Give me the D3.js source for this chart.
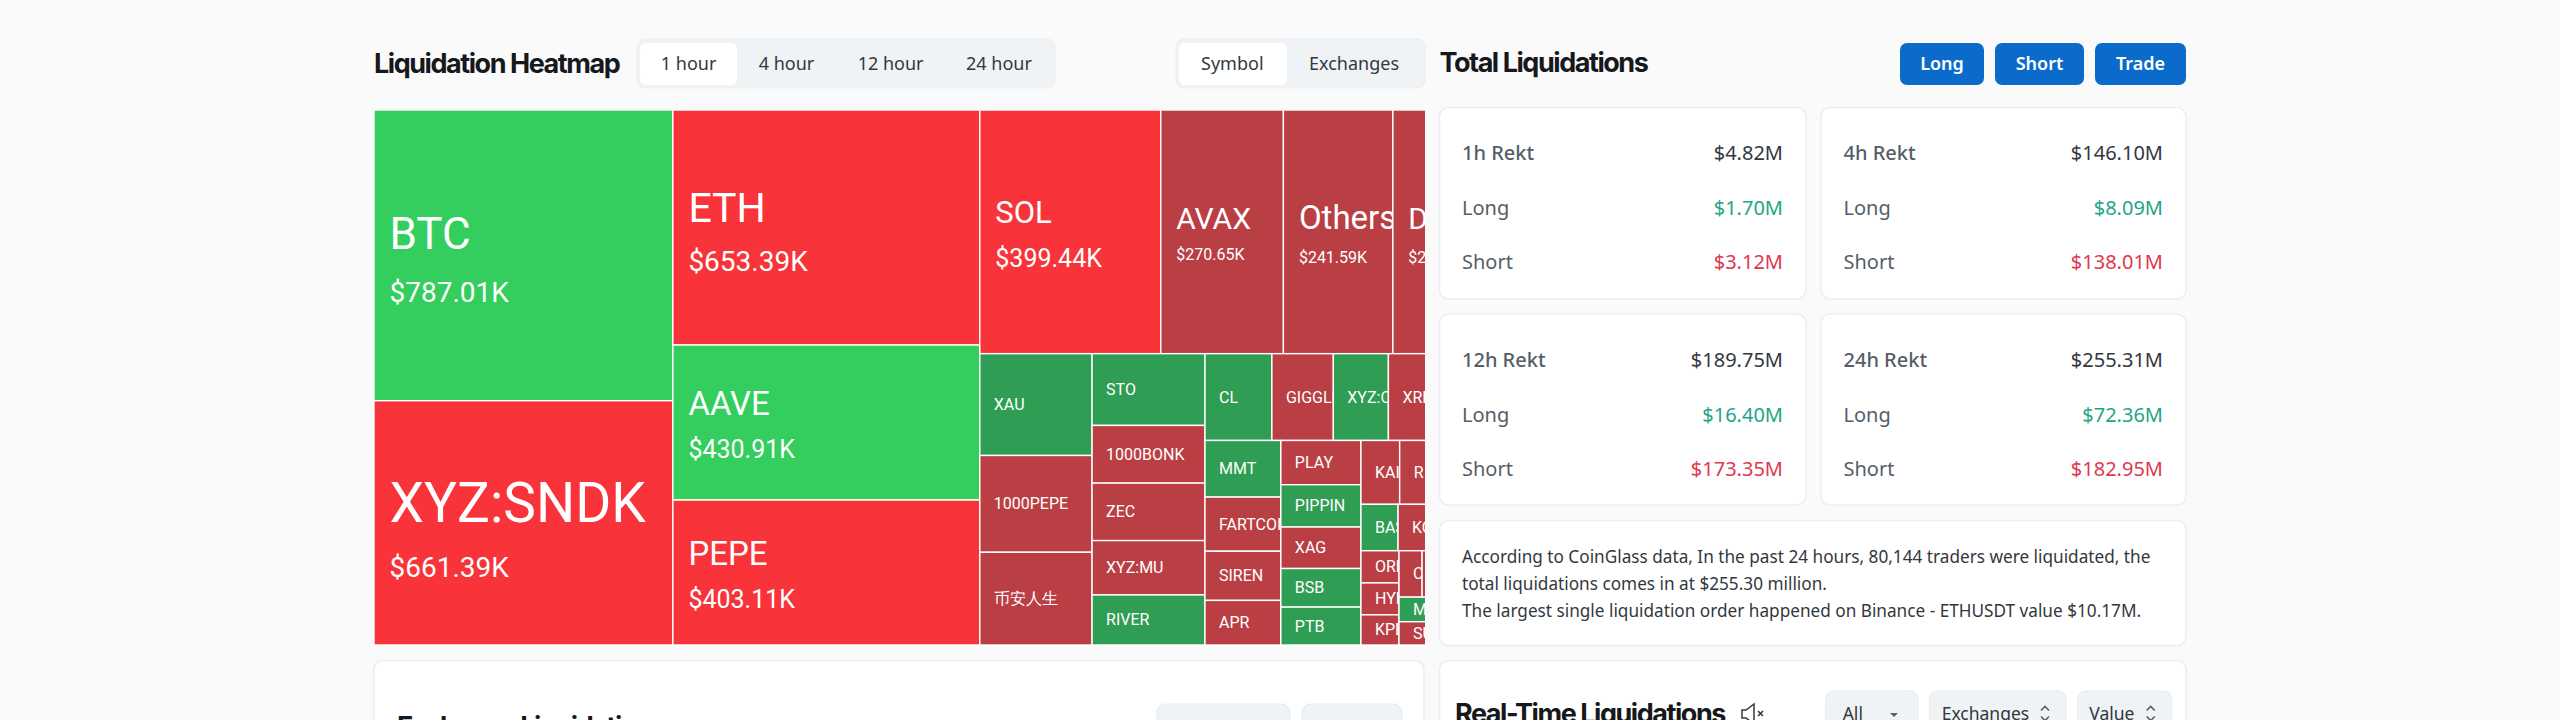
<!DOCTYPE html>
<html>
<head>
<meta charset="utf-8">
<title>Liquidation Heatmap</title>
<script src="https://cdn.jsdelivr.net/npm/d3@7"></script>
<style>
	html, body { margin: 0; padding: 0; background: #fafafb; overflow: hidden; }
	text { font-family: "Noto Sans", sans-serif; }
	.cell text { font-family: Roboto, sans-serif; fill: #fff; }
	.heading { font-family: Inter, sans-serif; font-weight: 700; font-size: 27px; letter-spacing: -1.45px; fill: #16181c; }
</style>
</head>
<body>
<div id="chart"></div>
<script>
"use strict";

// treemap data, in K USD. empty symbols are cells pushed off the right edge
var symbols = ["BTC", "XYZ:SNDK", "ETH", "AAVE", "PEPE", "SOL", "AVAX", "Others", "DOGE",
	"XAU", "1000PEPE", "币安人生",
	"STO", "1000BONK", "ZEC", "XYZ:MU", "RIVER",
	"CL", "GIGGLE", "XYZ:CRCL", "XRP", "",
	"MMT", "FARTCOIN", "SIREN", "APR",
	"PLAY", "PIPPIN", "XAG", "BSB", "PTB",
	"KAITO", "R", "",
	"BAS", "KC", "", "",
	"ORDI", "HYPE", "KPEPE",
	"C", "", "", "",
	"M", "SUI", ""];
var amounts = [787.01, 661.39, 653.39, 430.91, 403.11, 399.44, 270.65, 241.59, 210,
	103.5, 98.4, 94.3,
	73.4, 59, 58.8, 55.6, 51.2,
	52.6, 48.3, 43.3, 39.5, 38.8,
	38.9, 37.2, 33.8, 30.65,
	32.1, 30.7, 30.1, 28, 27.5,
	22.4, 26, 25.1,
	15.6, 15.5, 12, 10.3,
	11.1, 11, 10.4,
	9.7, 9.5, 9.3, 8.9,
	9.5, 9, 20.1];
var sides = ["long", "short", "short", "long", "short", "short", "short", "short", "short",
	"long", "short", "short",
	"long", "short", "short", "short", "long",
	"long", "short", "long", "short", "short",
	"long", "short", "short", "short",
	"short", "long", "short", "long", "long",
	"short", "short", "short",
	"long", "short", "short", "short",
	"short", "short", "short",
	"short", "short", "short", "short",
	"long", "short", "short"];

var timeTabs = ["1 hour", "4 hour", "12 hour", "24 hour"];
var groupTabs = ["Symbol", "Exchanges"];
var actionButtons = ["Long", "Short", "Trade"];

var rektLabels = ["1h Rekt", "4h Rekt", "12h Rekt", "24h Rekt"];
var rektTotals = ["$4.82M", "$146.10M", "$189.75M", "$255.31M"];
var rektLongs = ["$1.70M", "$8.09M", "$16.40M", "$72.36M"];
var rektShorts = ["$3.12M", "$138.01M", "$173.35M", "$182.95M"];

var noteLines = [
	"According to CoinGlass data, In the past 24 hours, 80,144 traders were liquidated, the",
	"total liquidations comes in at $255.30 million.",
	"The largest single liquidation order happened on Binance - ETHUSDT value $10.17M."
];
var realTimeFilters = ["All", "Exchanges", "Value"];

// label sizes for the big cells: name size, value size, name and value offset from cell centre
var bigLabels = {
	"BTC": [44, 28, -6.5, 46.7],
	"XYZ:SNDK": [55, 28, -1, 54.5],
	"ETH": [41, 28, -6, 43.7],
	"AAVE": [33, 25, -8, 35],
	"PEPE": [33, 25, -8, 35.5],
	"SOL": [31, 25, -8.5, 35],
	"AVAX": [30, 16, -2.5, 28.5],
	"Others": [33, 16, -2.5, 31],
	"DOGE": [30, 16, -2.5, 31]
};

var svg = d3.select("#chart").append("svg")
	.attr("width", 2560)
	.attr("height", 720)
	.style("display", "block");

var defs = svg.append("defs");

function card(x, y, w, h) {
	return svg.append("rect")
		.attr("x", x).attr("y", y)
		.attr("width", w).attr("height", h)
		.attr("rx", 9)
		.attr("fill", "#fff")
		.attr("stroke", "#eceef0")
		.attr("stroke-width", 1.5);
}

function label(parent, str, x, y, size, color, anchor, weight) {
	return parent.append("text")
		.attr("x", x).attr("y", y)
		.attr("text-anchor", anchor || "start")
		.attr("font-size", size)
		.attr("font-weight", weight || 400)
		.attr("fill", color)
		.text(str);
}

function tabBar(names, barX, barW, activeX, activeW, centres) {
	svg.append("rect")
		.attr("x", barX).attr("y", 39)
		.attr("width", barW).attr("height", 49)
		.attr("rx", 8)
		.attr("fill", "#f0f3f6")
		.attr("stroke", "#eceff2");
	svg.append("rect")
		.attr("x", activeX).attr("y", 43)
		.attr("width", activeW).attr("height", 42)
		.attr("rx", 6)
		.attr("fill", "#fff");
	names.forEach(function (name, i) {
		label(svg, name, centres[i], 70, 18, "#32383e", "middle");
	});
}

// header
svg.append("text").attr("class", "heading").attr("x", 374).attr("y", 73).text("Liquidation Heatmap");
tabBar(timeTabs, 637, 418, 640, 97, [688.6, 786.5, 890.6, 999]);
tabBar(groupTabs, 1176, 249, 1179, 108, [1232.3, 1354]);

// heatmap
var chartX = 374, chartY = 110, chartH = 535, chartVisibleW = 1051;
var chartW = 1114;

var root = d3.hierarchy({
	children: symbols.map(function (s, i) {
		return { id: i, symbol: s, amount: amounts[i], side: sides[i] };
	})
}).sum(function (d) { return d.amount || 0; });

d3.treemap()
	.tile(d3.treemapSquarify)
	.size([chartW, chartH])(root);

var color = d3.scaleOrdinal()
	.domain(["long", "short"])
	.range(["#2f9d53", "#ba3f45"]);
var brightColor = d3.scaleOrdinal()
	.domain(["long", "short"])
	.range(["#34ce5e", "#f8343a"]);

defs.append("clipPath").attr("id", "chartClip")
	.append("rect")
	.attr("width", chartVisibleW)
	.attr("height", chartH + 1);

defs.selectAll(".cellClip")
	.data(root.leaves())
	.join("clipPath")
	.attr("class", "cellClip")
	.attr("id", function (d) { return "cell" + d.data.id; })
	.append("rect")
	.attr("x", function (d) { return d.x0; })
	.attr("y", function (d) { return d.y0; })
	.attr("width", function (d) { return d.x1 - d.x0; })
	.attr("height", function (d) { return d.y1 - d.y0; });

var map = svg.append("g")
	.attr("transform", "translate(" + chartX + "," + chartY + ")")
	.attr("clip-path", "url(#chartClip)");

var cells = map.selectAll("g")
	.data(root.leaves())
	.join("g")
	.attr("class", "cell");

cells.append("rect")
	.attr("x", function (d) { return d.x0; })
	.attr("y", function (d) { return d.y0; })
	.attr("width", function (d) { return d.x1 - d.x0; })
	.attr("height", function (d) { return d.y1 - d.y0; })
	.attr("fill", function (d) {
		return d.data.amount > 300 ? brightColor(d.data.side) : color(d.data.side);
	})
	.attr("stroke", "#fff")
	.attr("stroke-width", 1.4);

var texts = cells.filter(function (d) { return d.data.symbol !== ""; })
	.append("g")
	.attr("clip-path", function (d) { return "url(#cell" + d.data.id + ")"; });

texts.append("text")
	.attr("x", function (d) { return d.x0 + (bigLabels[d.data.symbol] ? 15.5 : 14); })
	.attr("y", function (d) {
		var style = bigLabels[d.data.symbol];
		return (d.y0 + d.y1) / 2 + (style ? style[2] : 5.5);
	})
	.attr("font-size", function (d) {
		var style = bigLabels[d.data.symbol];
		return style ? style[0] : 16;
	})
	.text(function (d) { return d.data.symbol; });

texts.filter(function (d) { return bigLabels[d.data.symbol]; })
	.append("text")
	.attr("x", function (d) { return d.x0 + 15.5; })
	.attr("y", function (d) { return (d.y0 + d.y1) / 2 + bigLabels[d.data.symbol][3]; })
	.attr("font-size", function (d) { return bigLabels[d.data.symbol][1]; })
	.text(function (d) { return d3.format("$.2f")(d.data.amount) + "K"; });

// exchange card under the heatmap, cut by the window
card(374, 660.5, 1050, 120);
svg.append("text").attr("class", "heading").attr("x", 397).attr("y", 736).text("Exchange Liquidation");
[[1157, 133], [1302, 100]].forEach(function (b) {
	svg.append("rect")
		.attr("x", b[0]).attr("y", 704)
		.attr("width", b[1]).attr("height", 40)
		.attr("rx", 8)
		.attr("fill", "#f0f3f6")
		.attr("stroke", "#e6eaee");
});

// right column
svg.append("text").attr("class", "heading").attr("x", 1439.5).attr("y", 72).text("Total Liquidations");

var buttonX = d3.scaleOrdinal().domain(actionButtons).range([1900, 1995, 2095]);
var buttonW = d3.scaleOrdinal().domain(actionButtons).range([84, 89, 91]);
actionButtons.forEach(function (name) {
	svg.append("rect")
		.attr("x", buttonX(name)).attr("y", 43)
		.attr("width", buttonW(name)).attr("height", 42)
		.attr("rx", 7)
		.attr("fill", "#0b6bcb");
	label(svg, name, buttonX(name) + buttonW(name) / 2, 69.5, 18, "#fff", "middle", 600);
});

rektLabels.forEach(function (name, i) {
	var col = i % 2, row = Math.floor(i / 2);
	var x = col === 0 ? 1439.5 : 1821;
	var y = row === 0 ? 107.5 : 314;
	var w = col === 0 ? 366.5 : 365;
	var textX = x + 22.5;
	var valueX = x + w - 23;
	card(x, y, w, row === 0 ? 191.5 : 191);
	var base = row === 0 ? 159.5 : 366.5;
	label(svg, name, textX, base, 20, "#555e68", "start", 500);
	label(svg, rektTotals[i], valueX, base, 20, "#32383e", "end", 400);
	label(svg, "Long", textX, base + 55, 20, "#555e68");
	label(svg, rektLongs[i], valueX, base + 55, 20, "#1fa588", "end", 400);
	label(svg, "Short", textX, base + 109, 20, "#555e68");
	label(svg, rektShorts[i], valueX, base + 109, 20, "#e0384f", "end", 400);
});

card(1439.5, 520.5, 746.5, 125);
noteLines.forEach(function (line, i) {
	label(svg, line, 1462, [563, 589.5, 617][i], 17.2, "#32383e");
});

card(1439.5, 660.5, 746.5, 120);
svg.append("text").attr("class", "heading").attr("x", 1455).attr("y", 723).text("Real-Time Liquidations");

// mute icon
svg.append("path")
	.attr("d", "M1754 704 L1746 710 L1742 710 L1742 718 L1746 718 L1754 724 Z")
	.attr("fill", "none")
	.attr("stroke", "#32383e")
	.attr("stroke-width", 1.5);
svg.append("path")
	.attr("d", "M1758 711 L1763 716 M1763 711 L1758 716")
	.attr("fill", "none")
	.attr("stroke", "#32383e")
	.attr("stroke-width", 1.6);

var filterBoxes = [[1825.7, 92.3, 1842.7], [1929.3, 136.7, 1941.7], [2077.7, 94, 2089.3]];
realTimeFilters.forEach(function (name, i) {
	var b = filterBoxes[i];
	svg.append("rect")
		.attr("x", b[0]).attr("y", 691)
		.attr("width", b[1]).attr("height", 50)
		.attr("rx", 8)
		.attr("fill", "#f0f3f6")
		.attr("stroke", "#e6eaee");
	label(svg, name, b[2], 719.5, 17.5, "#32383e");
});
svg.append("path").attr("d", "M1890 713 L1898 713 L1894 717 Z").attr("fill", "#555e68");
[2045, 2150.7].forEach(function (x) {
	svg.append("path")
		.attr("d", "M" + (x - 4) + " 710.5 L" + x + " 706.5 L" + (x + 4) + " 710.5 M" + (x - 4) + " 716.5 L" + x + " 720.5 L" + (x + 4) + " 716.5")
		.attr("fill", "none")
		.attr("stroke", "#555e68")
		.attr("stroke-width", 1.6);
});
</script>
</body>
</html>
